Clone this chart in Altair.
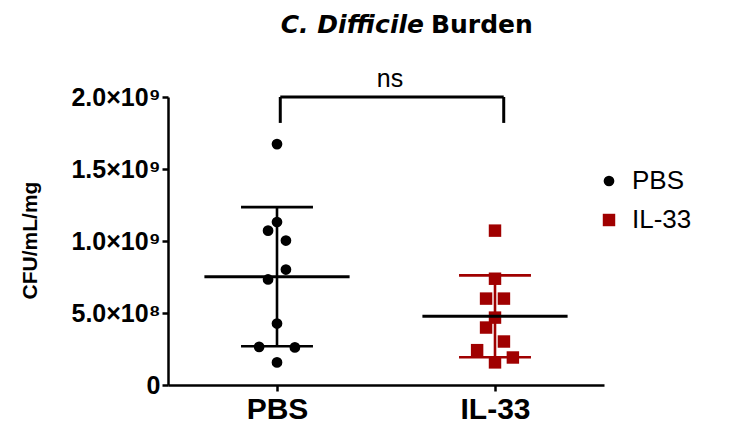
import altair as alt
import pandas as pd
import numpy as np

# ---------------- data ----------------
groups = ["PBS", "IL-33"]
pbs_values = [1.673e9, 1.132e9, 1.072e9, 1.003e9, 0.802e9, 0.733e9, 0.427e9, 0.265e9, 0.261e9, 0.157e9]
pbs_columns = [0, 0, -1, 1, 1, -1, 0, -2, 2, 0]          # swarm column of each dot
il33_values = [1.072e9, 0.738e9, 0.600e9, 0.600e9, 0.468e9, 0.399e9, 0.302e9, 0.242e9, 0.191e9, 0.157e9]
il33_columns = [0, 0, -1, 1, 0, -1, 1, -2, 2, 0]
y_ticks = [0, 5e8, 1e9, 1.5e9, 2e9]
y_tick_labels = ["0", "5.0×10⁸", "1.0×10⁹", "1.5×10⁹", "2.0×10⁹"]
title_italic = "C. Difficile"
title_rest = "Burden"
sig_label = "ns"
y_title = "CFU/mL/mg"

# ---------------- styling ----------------
COLORS = ["#000000", "#A00000"]
SHAPES = ["circle", "square"]
SLOT = 0.041       # width of one swarm column, in category units
MEAN_HALF = 0.333
CAP_HALF = 0.165
FONT = "Liberation Sans"
TFONT = "DejaVu Sans"

rows = []
stats = []
for gi, (g, vals, cols) in enumerate(zip(groups, [pbs_values, il33_values], [pbs_columns, il33_columns])):
    for v, c in zip(vals, cols):
        rows.append({"group": g, "value": v, "x": gi + c * SLOT})
    m = float(np.mean(vals))
    s = float(np.std(vals, ddof=1))
    stats.append({"group": g, "x": gi, "mean": m, "lo": m - s, "hi": m + s,
                  "mx1": gi - MEAN_HALF, "mx2": gi + MEAN_HALF,
                  "cx1": gi - CAP_HALF, "cx2": gi + CAP_HALF})
pts = pd.DataFrame(rows)
st = pd.DataFrame(stats)

bracket = pd.DataFrame([{"x1": 0.015, "x2": 1.04, "top": 2.0e9, "bottom": 1.82e9}])

y_expr = " : ".join(f"datum.value == {int(v)} ? '{l}'" for v, l in zip(y_ticks, y_tick_labels)) + " : ''"
x_expr = f"datum.value == 0 ? '{groups[0]}' : '{groups[1]}'"

xscale = alt.Scale(domain=[-0.5, 1.5], nice=False, zero=False)
yscale = alt.Scale(domain=[0, 2e9], nice=False)
cscale = alt.Scale(domain=groups, range=COLORS)

xaxis = alt.Axis(values=[0, 1], labelExpr=x_expr, title=None, grid=False,
                 labelFont=FONT, labelFontSize=30, labelFontWeight="bold", labelColor="black",
                 tickSize=6, tickWidth=2.5, tickColor="black",
                 domainWidth=2.5, domainColor="black", labelPadding=3, labelFlush=False)
yaxis = alt.Axis(values=y_ticks, labelExpr=y_expr, title=y_title, grid=False,
                 labelFont=FONT, labelFontSize=25, labelFontWeight="bold", labelColor="black",
                 tickSize=6, tickWidth=2.5, tickColor="black",
                 domainWidth=2.5, domainColor="black", labelPadding=2,
                 titleFont=FONT, titleFontSize=21, titleFontWeight="bold", titleColor="black",
                 titleX=-138, titleY=143, titleAngle=-90, titleAlign="center",
                 titleBaseline="middle")

legend = alt.Legend(title=None, orient="none", legendX=428, legendY=71,
                    symbolSize=130, labelFontSize=26, labelFont=FONT, labelColor="black",
                    rowPadding=13, labelOffset=10, symbolStrokeWidth=0)

points = alt.Chart(pts).mark_point(filled=True, opacity=1).encode(
    x=alt.X("x:Q", scale=xscale, axis=xaxis),
    y=alt.Y("value:Q", scale=yscale, axis=yaxis),
    color=alt.Color("group:N", scale=cscale, legend=legend),
    shape=alt.Shape("group:N", scale=alt.Scale(domain=groups, range=SHAPES), legend=legend),
    size=alt.Size("group:O", scale=alt.Scale(domain=groups, range=[115, 155]), legend=None),
)

sd_line = alt.Chart(st).mark_rule(strokeWidth=2.6).encode(
    x=alt.X("x:Q", scale=xscale, axis=xaxis),
    y=alt.Y("lo:Q", scale=yscale, axis=yaxis),
    y2="hi:Q",
    color=alt.Color("group:N", scale=cscale, legend=None),
)
cap_hi = alt.Chart(st).mark_rule(strokeWidth=2.6).encode(
    x=alt.X("cx1:Q", scale=xscale, axis=xaxis), x2="cx2:Q",
    y=alt.Y("hi:Q", scale=yscale, axis=yaxis),
    color=alt.Color("group:N", scale=cscale, legend=None),
)
cap_lo = alt.Chart(st).mark_rule(strokeWidth=2.6).encode(
    x=alt.X("cx1:Q", scale=xscale, axis=xaxis), x2="cx2:Q",
    y=alt.Y("lo:Q", scale=yscale, axis=yaxis),
    color=alt.Color("group:N", scale=cscale, legend=None),
)
mean_line = alt.Chart(st).mark_rule(strokeWidth=3, color="black").encode(
    x=alt.X("mx1:Q", scale=xscale, axis=xaxis), x2="mx2:Q",
    y=alt.Y("mean:Q", scale=yscale, axis=yaxis),
)

br_h = alt.Chart(bracket).mark_rule(strokeWidth=3, color="black").encode(
    x=alt.X("x1:Q", scale=xscale, axis=xaxis), x2="x2:Q",
    y=alt.Y("top:Q", scale=yscale, axis=yaxis),
)
br_l = alt.Chart(bracket).mark_rule(strokeWidth=3, color="black").encode(
    x=alt.X("x1:Q", scale=xscale, axis=xaxis),
    y=alt.Y("top:Q", scale=yscale, axis=yaxis), y2="bottom:Q",
)
br_r = alt.Chart(bracket).mark_rule(strokeWidth=3, color="black").encode(
    x=alt.X("x2:Q", scale=xscale, axis=xaxis),
    y=alt.Y("top:Q", scale=yscale, axis=yaxis), y2="bottom:Q",
)
ns_text = alt.Chart(alt.Data(values=[{"t": sig_label}])).mark_text(
    font=FONT, fontSize=25, color="black", align="center", baseline="alphabetic"
).encode(text="t:N", x=alt.value(222), y=alt.value(-10))

t1 = alt.Chart(alt.Data(values=[{"t": title_italic}])).mark_text(
    font=TFONT, fontSize=25, fontWeight="bold", fontStyle="italic", color="black",
    align="right", baseline="alphabetic"
).encode(text="t:N", x=alt.value(256), y=alt.value(-64))
t2 = alt.Chart(alt.Data(values=[{"t": title_rest}])).mark_text(
    font=TFONT, fontSize=25, fontWeight="bold", color="black",
    align="left", baseline="alphabetic"
).encode(text="t:N", x=alt.value(263), y=alt.value(-64))

chart = alt.layer(points, sd_line, cap_hi, cap_lo, mean_line, br_h, br_l, br_r, ns_text, t1, t2).properties(
    width=436, height=288,
    autosize=alt.AutoSizeParams(type="none"),
    padding={"left": 160, "top": 89, "right": 135, "bottom": 38},
).configure(background="white").configure_view(stroke=None)

chart.save("out.html", embed_options={"renderer": "svg", "actions": False})
